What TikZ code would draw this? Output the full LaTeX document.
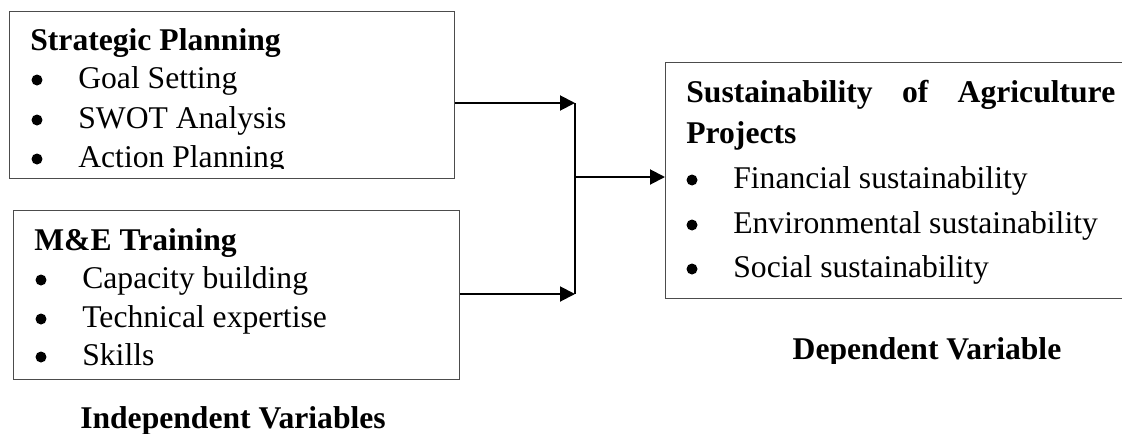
\documentclass[tikz,border=0pt]{standalone}
\usepackage{fontspec}
\setmainfont{Liberation Serif}
\usetikzlibrary{arrows.meta, positioning}

\begin{document}
\begin{tikzpicture}[
  x=0.02cm, y=-0.02cm,
  box/.style = {draw=black!70, line width=0.6pt, inner sep=0pt, anchor=north west},
  head/.style = {font=\fontsize{18}{22}\selectfont\bfseries, anchor=base west, inner sep=0pt},
  item/.style = {font=\fontsize{18}{22}\selectfont, anchor=base west, inner sep=0pt},
  bul/.style = {circle, fill=black, inner sep=0pt, minimum size=0.22cm},
  caption/.style = {font=\fontsize{18}{22}\selectfont\bfseries, anchor=base, inner sep=0pt},
  link/.style = {line width=1.1pt},
  arr/.style = {link, -{Triangle[length=0.3cm, width=0.3cm]}}
]
  \useasboundingbox (0,0) rectangle (1122,433);

  % boxes
  \node[box, minimum width=8.9cm, minimum height=3.34cm] (plan) at (9,11) {};
  \node[box, minimum width=8.92cm, minimum height=3.38cm] (train) at (13,210) {};
  \node[box, minimum width=9.8cm, minimum height=4.72cm] (sust) at (665,62) {};

  % strategic planning
  \begin{scope}
    \clip (10,12) rectangle (453,168);
    \node[head] (planhead) at (30,50) {Strategic Planning};
    \foreach \y/\txt [count=\i] in {88/Goal Setting, 128/SWOT Analysis, 167/Action Planning}{
      \node[bul] (plandot\i) at (37,\y-8) {};
      \node[item] (planitem\i) at (78,\y) {\txt};
    }
  \end{scope}

  % m&e training
  \node[head] (trainhead) at (34,250) {M\&E Training};
  \foreach \y/\txt [count=\i] in {288/Capacity building, 327/Technical expertise, 365/Skills}{
    \node[bul] (traindot\i) at (41,\y-8) {};
    \node[item] (trainitem\i) at (82,\y) {\txt};
  }

  % sustainability
  \node[head] (susthead) at (686,102) {\makebox[8.58cm][s]{Sustainability of Agriculture}};
  \node[head] (susthead2) at (686,143) {Projects};
  \foreach \y/\txt [count=\i] in {188/Financial sustainability, 233/Environmental sustainability, 277/Social sustainability}{
    \node[bul] (sustdot\i) at (692,\y-8) {};
    \node[item] (sustitem\i) at (733,\y) {\txt};
  }

  % captions
  \node[caption] (indep) at (233,428) {Independent Variables};
  \begin{scope}
    \clip (700,300) rectangle (1122,363);
    \node[caption] (dep) at (927,359) {Dependent Variable};
  \end{scope}

  % connectors
  \coordinate (jtop) at (575,103);
  \coordinate (jbot) at (575,294);
  \coordinate (jmid) at (575,177);
  \draw[arr] (plan.east |- jtop) -- (jtop);
  \draw[arr] (train.east |- jbot) -- (jbot);
  \draw[link] (jtop) -- (jbot);
  \draw[arr] (jmid) -- (jmid -| sust.west);
\end{tikzpicture}
\end{document}
